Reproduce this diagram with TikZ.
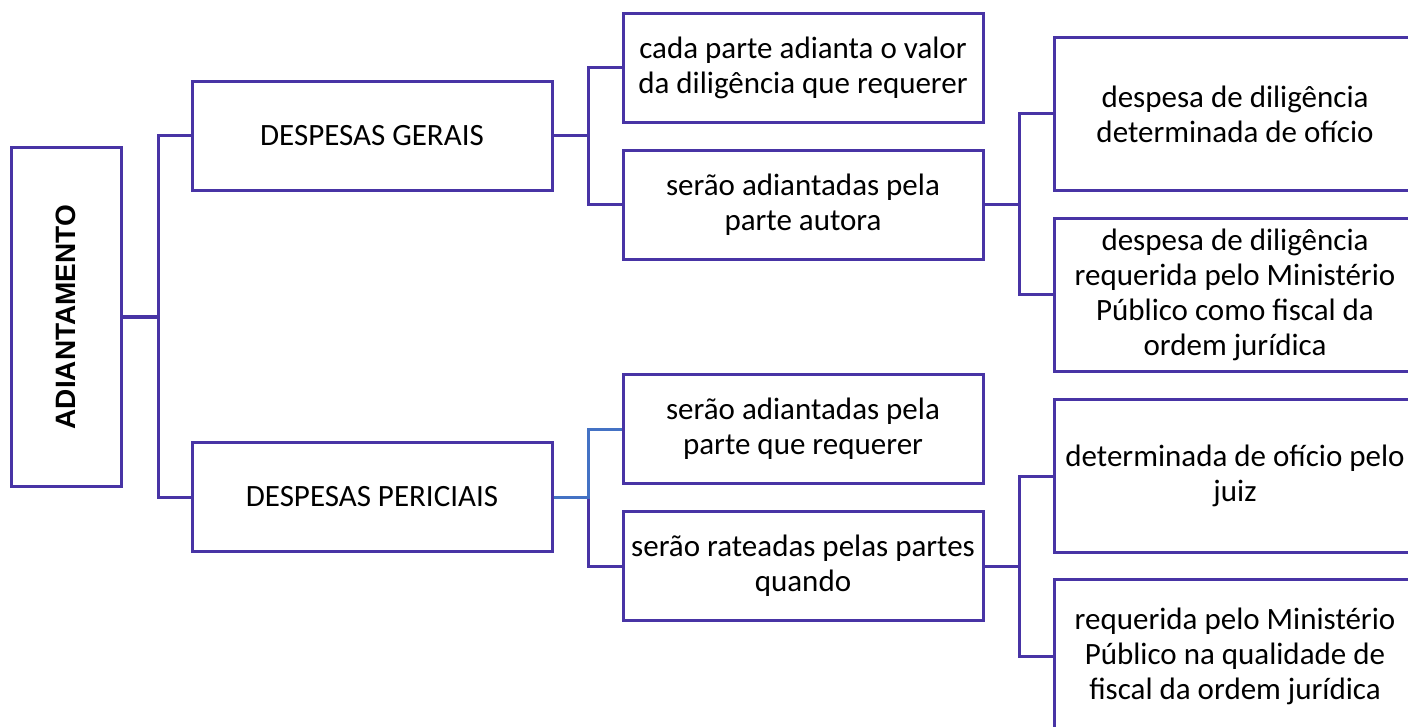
\documentclass[tikz,border=0pt]{standalone}
\usepackage{fontspec}
\setmainfont{Carlito}
\newfontfamily\arialfont{Liberation Sans}
\definecolor{boxline}{RGB}{72,52,165}
\definecolor{blueline}{RGB}{68,114,196}
\begin{document}
\begin{tikzpicture}[x=1pt,y=-1pt,
  box/.style={draw=boxline,line width=3pt,fill=white,align=center,inner sep=0pt,
    font=\fontsize{31}{35}\selectfont},
  midbox/.style={box,minimum width=360pt,minimum height=109pt},
  rbox/.style={box,minimum width=362pt,minimum height=153pt},
  conn/.style={draw=boxline,line width=3pt},
  bconn/.style={draw=blueline,line width=3pt}]
\useasboundingbox (0,0) rectangle (1408,727);
\clip (0,0) rectangle (1408,727);
\fill[white] (0,0) rectangle (1408,727);
% root
\node[box,minimum width=110pt,minimum height=338pt] (root) at (66,317)
  {\rotatebox{90}{\arialfont\bfseries\fontsize{28}{30}\selectfont ADIANTAMENTO}};
% level 1
\node[midbox] (dg) at (372,136) {DESPESAS GERAIS};
\node[midbox] (dp) at (372,497) {DESPESAS PERICIAIS};
% level 2
\node[midbox] (g1) at (803,68) {cada parte adianta o valor\\da diligência que requerer};
\node[midbox] (g2) at (803,205) {serão adiantadas pela\\parte autora};
\node[midbox] (p1) at (803,429) {serão adiantadas pela\\parte que requerer};
\node[midbox] (p2) at (803,566) {serão rateadas pelas partes\\quando};
% level 3
\node[rbox] (g21) at (1235,114) {despesa de diligência\\determinada de ofício};
\node[rbox] (g22) at (1235,295) {despesa de diligência\\requerida pelo Ministério\\Público como fiscal da\\ordem jurídica};
\node[rbox] (p21) at (1235,476) {determinada de ofício pelo\\juiz};
\node[rbox] (p22) at (1235,656) {requerida pelo Ministério\\Público na qualidade de\\fiscal da ordem jurídica};
% connectors
\draw[conn] (root.east) -- ++(36,0) |- (dg.west);
\draw[conn] (root.east) -- ++(36,0) |- (dp.west);
\draw[conn] (dg.east) -- ++(35,0) |- (g1.west);
\draw[conn] (dg.east) -- ++(35,0) |- (g2.west);
\draw[conn] (dp.east) -- ++(35,0) |- (p2.west);
\draw[bconn] (dp.east) -- ++(35,0) |- (p1.west);
\draw[conn] (g2.east) -- ++(35,0) |- (g21.west);
\draw[conn] (g2.east) -- ++(35,0) |- (g22.west);
\draw[conn] (p2.east) -- ++(35,0) |- (p21.west);
\draw[conn] (p2.east) -- ++(35,0) |- (p22.west);
\end{tikzpicture}
\end{document}
